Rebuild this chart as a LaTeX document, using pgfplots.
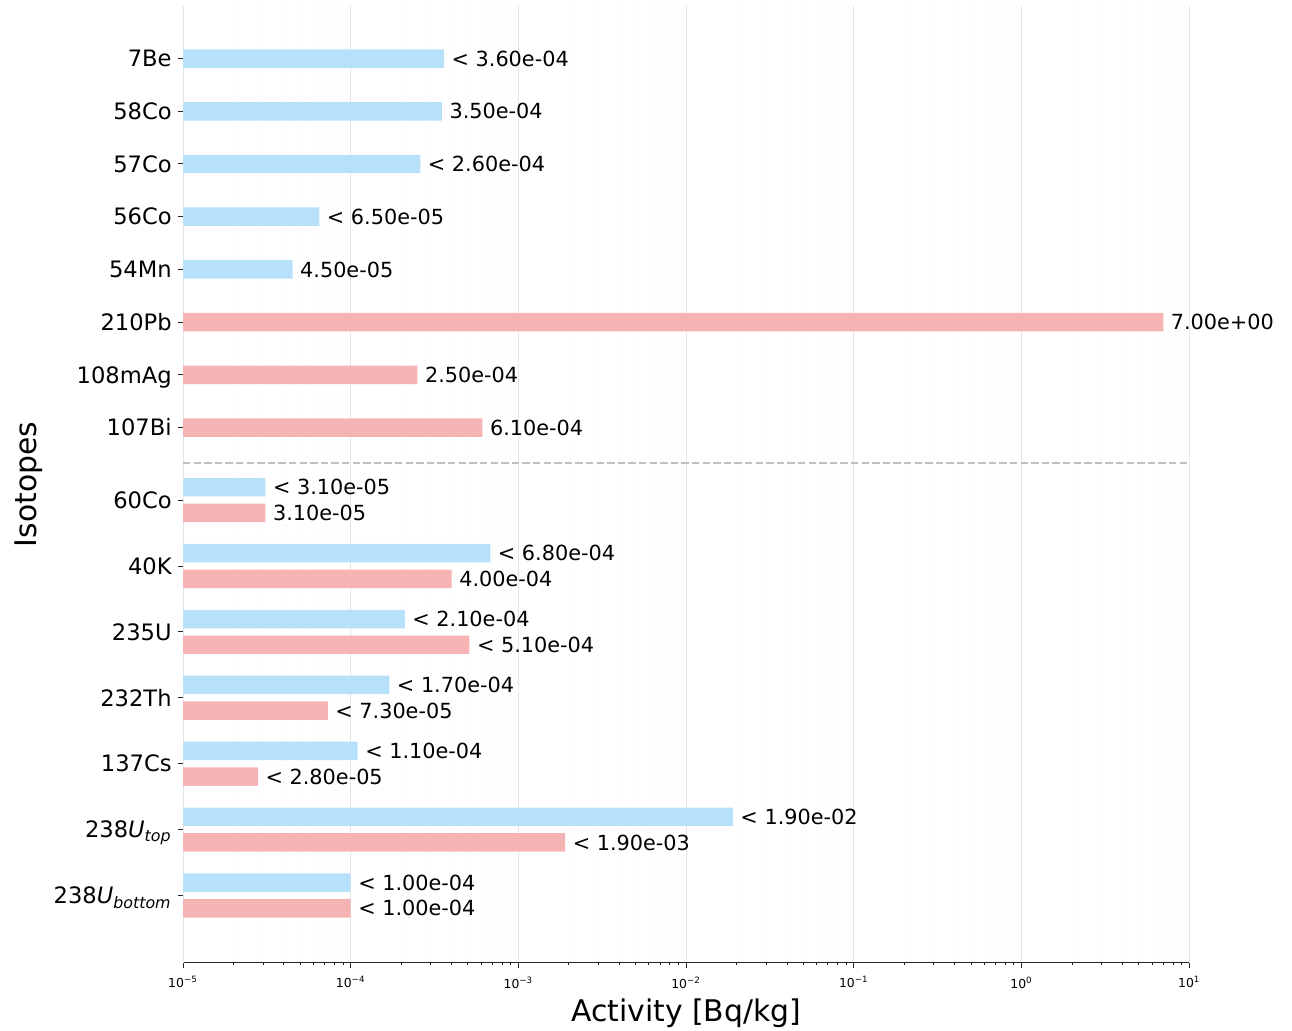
\documentclass[border=0pt]{standalone}
\usepackage{fontspec}
\setmainfont{DejaVu Sans}
\usepackage{pgfplots}
\pgfplotsset{compat=1.18}

\definecolor{barblue}{RGB}{183,225,251}
\definecolor{barred}{RGB}{246,179,179}
\definecolor{gridgray}{RGB}{230,230,230}
\definecolor{sepgray}{RGB}{192,192,192}

\begin{document}
\begin{tikzpicture}
\useasboundingbox (-91.5pt,-33.75pt) rectangle (554.35pt,481.25pt);
\begin{axis}[
  at={(0,0)}, anchor=south west,
  scale only axis, width=503pt, height=478pt,
  xmode=log, log origin x=infty,
  xmin=1e-5, xmax=1e1, ymin=-0.1, ymax=72.45,
  clip=false,
  bar width=1.4,
  axis lines*=left,
  y axis line style={draw=gridgray, line width=0.5pt},
  x axis line style={black!85, line width=0.6pt},
  tick align=outside,
  major tick length=2.5pt, minor tick length=1.3pt,
  tick style={draw=black!85, line width=0.5pt},
  ytick style={draw=black!85, line width=0.5pt},
  xtick={1e-5,1e-4,1e-3,1e-2,1e-1,1,10},
  xticklabels={10\textsuperscript{−5},10\textsuperscript{−4},10\textsuperscript{−3},10\textsuperscript{−2},10\textsuperscript{−1},10\textsuperscript{0},10\textsuperscript{1}},
  minor xtick={2e-5,3e-5,4e-5,5e-5,6e-5,7e-5,8e-5,9e-5,
               2e-4,3e-4,4e-4,5e-4,6e-4,7e-4,8e-4,9e-4,
               2e-3,3e-3,4e-3,5e-3,6e-3,7e-3,8e-3,9e-3,
               2e-2,3e-2,4e-2,5e-2,6e-2,7e-2,8e-2,9e-2,
               0.2,0.3,0.4,0.5,0.6,0.7,0.8,0.9,
               2,3,4,5,6,7,8,9},
  xmajorgrids, xminorgrids,
  major grid style={gridgray, line width=0.5pt},
  minor grid style={gridgray!60, dotted, line width=0.4pt},
  xticklabel style={font=\fontsize{6.2}{7}\selectfont, inner sep=0pt, anchor=north, yshift=-4.25pt},
  ytick={5,10,15,20,25,30,35,40.5,44.5,48.5,52.5,56.5,60.5,64.5,68.5},
  yticklabels={238\textit{U}\textsubscript{\textit{bottom}},
               238\textit{U}\textsubscript{\textit{top}},
               137Cs,232Th,235U,40K,60Co,
               107Bi,108mAg,210Pb,54Mn,56Co,57Co,58Co,7Be},
  yticklabel style={font=\fontsize{11.3}{13}\selectfont, inner sep=0pt, anchor=base east, xshift=-3pt, yshift=-4.1pt},
  xlabel={Activity [Bq/kg]},
  ylabel={Isotopes},
  xlabel style={font=\fontsize{14.9}{18}\selectfont, at={(axis description cs:0.5,-0.0615)}, anchor=base},
  ylabel style={font=\fontsize{14.9}{18}\selectfont, at={(axis description cs:-0.153,0.5)}, anchor=center},
  every node near coord/.append style={font=\fontsize{10.4}{12}\selectfont, text=black, anchor=west, inner sep=0pt, xshift=3.6pt},
]

% upper bar of each pair, and the single blue bars
\addplot[xbar, bar shift=0, fill=barblue, draw=none,
         nodes near coords, point meta=explicit symbolic] coordinates {
  (3.6e-4,68.5)   [< 3.60e-04]
  (3.5e-4,64.5)   [3.50e-04]
  (2.6e-4,60.5)   [< 2.60e-04]
  (6.5e-5,56.5)   [< 6.50e-05]
  (4.5e-5,52.5)   [4.50e-05]
  (3.1e-5,35.975) [< 3.10e-05]
  (6.8e-4,30.975) [< 6.80e-04]
  (2.1e-4,25.975) [< 2.10e-04]
  (1.7e-4,20.975) [< 1.70e-04]
  (1.1e-4,15.975) [< 1.10e-04]
  (1.9e-2,10.975) [< 1.90e-02]
  (1.0e-4,5.975)  [< 1.00e-04]
};

% lower bar of each pair, and the single red bars
\addplot[xbar, bar shift=0, fill=barred, draw=none,
         nodes near coords, point meta=explicit symbolic] coordinates {
  (7.0,48.5)      [7.00e+00]
  (2.5e-4,44.5)   [2.50e-04]
  (6.1e-4,40.5)   [6.10e-04]
  (3.1e-5,34.025) [3.10e-05]
  (4.0e-4,29.025) [4.00e-04]
  (5.1e-4,24.025) [< 5.10e-04]
  (7.3e-5,19.025) [< 7.30e-05]
  (2.8e-5,14.025) [< 2.80e-05]
  (1.9e-3,9.025)  [< 1.90e-03]
  (1.0e-4,4.025)  [< 1.00e-04]
};

% separator between the two groups
\addplot[sharp plot, draw=sepgray, line width=1pt, dash pattern=on 3.7pt off 1.6pt, forget plot]
  coordinates {(1e-5,37.8) (10,37.8)};
\end{axis}
\end{tikzpicture}
\end{document}
